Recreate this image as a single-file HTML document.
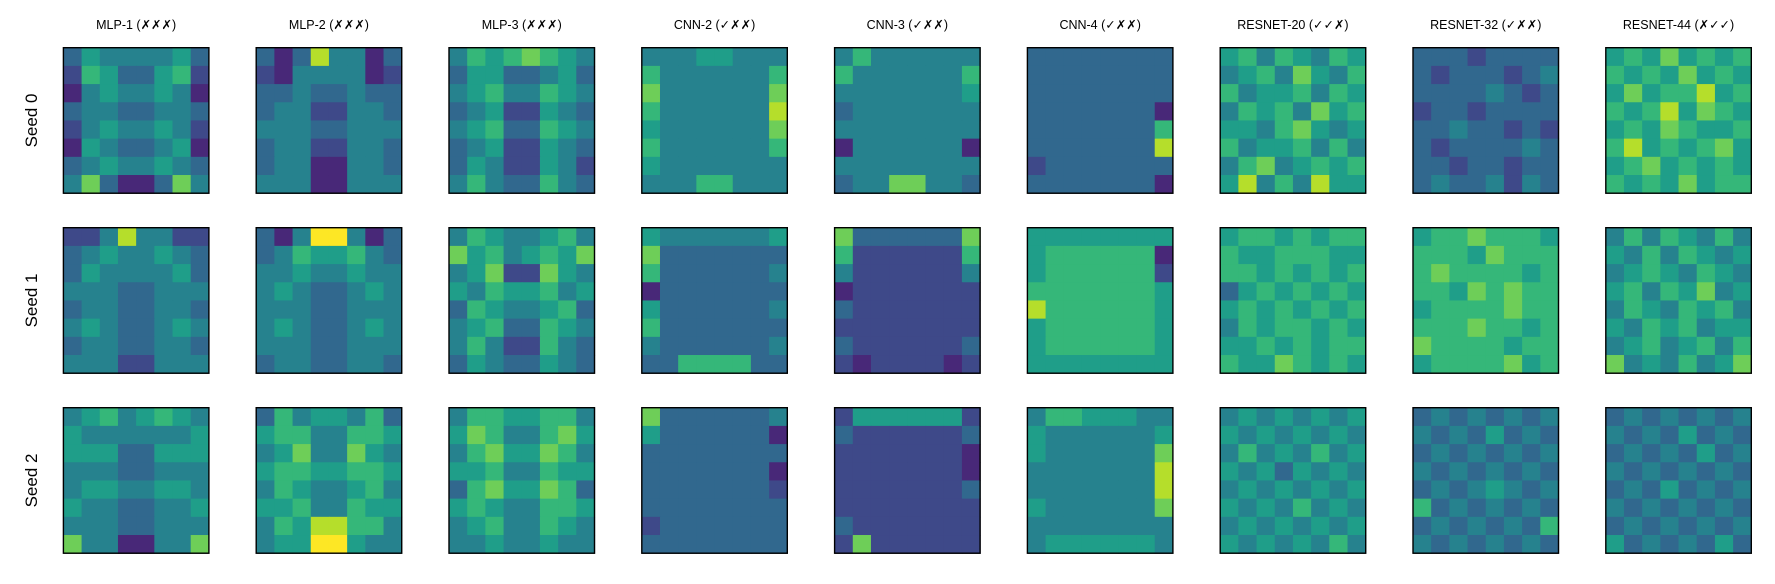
<!DOCTYPE html>
<html><head><meta charset="utf-8">
<style>
html,body{margin:0;padding:0;background:#fff;}
svg{display:block;font-family:"Liberation Sans","DejaVu Sans",sans-serif;}
</style></head>
<body>
<svg id="fig" width="1775" height="584" viewBox="0 0 1775 584" xmlns="http://www.w3.org/2000/svg"></svg>
<script>
const models = ["MLP-1 (✗✗✗)","MLP-2 (✗✗✗)","MLP-3 (✗✗✗)","CNN-2 (✓✗✗)","CNN-3 (✓✗✗)","CNN-4 (✓✗✗)","RESNET-20 (✓✓✗)","RESNET-32 (✓✗✗)","RESNET-44 (✗✓✓)"];
const seeds = ["Seed 0","Seed 1","Seed 2"];
const seed0 = [
["35444453","26533562","14544541","34433443","24544542","15433451","34544543","47311374"],
["31384413","21444412","33433433","34422443","44433444","34422443","34411443","44411444"],
["46567654","35533453","45644654","34522543","45633654","34522543","35422542","46433643"],
["44455444","64444446","74444447","64444448","54444447","64444446","54444444","44466444"],
["46444444","64444446","44444445","34444444","44444444","14444441","44444444","34477443"],
["33333333","33333333","33333333","33333331","33333336","33333338","23333333","33333331"],
["56465465","45647546","64556465","46564756","55467545","64556464","46745656","58464855"],
["33323333","32333234","33334323","23323333","33433232","32333343","33233233","34334243"],
["56575656","65657565","57566856","65685765","56576556","68565675","56756565","65657566"]
];
const seed1 = [
["22484422","34544543","35444453","44433444","34433443","45433454","34433443","44422444"],
["31499413","34655643","44544544","45433454","44433444","45433454","44433444","34433443"],
["46544564","75645657","45722754","54655645","36544563","45633654","46422643","35433543"],
["54444445","73333333","63333334","13333333","53333334","63333333","43333334","33666633"],
["73333337","62222226","42222224","12222222","32222222","22222222","32222223","21222212"],
["55555555","56666661","56666662","66666665","86666665","56666665","56666665","55555555"],
["56656566","65566655","66565656","35656565","56565656","46566565","55656566","65576565"],
["56676665","66657666","67666656","66576766","56666766","66676656","76666566","56666756"],
["46465464","54646545","45654654","56465745","46546564","54656455","45645646","74546457"]
];
const seed2 = [
["45645654","54444445","55533555","44433444","45544554","54433445","44433444","74411447"],
["36455463","56644665","45744754","56655665","46544564","55644655","46588664","45599544"],
["46655664","57644675","46755764","55644655","36755763","56544665","45644654","44544544"],
["73333334","53333331","33333333","33333331","33333332","33333333","23333333","33333333"],
["25555552","32222223","22222221","22222221","22222223","22222222","32222222","27222222"],
["46655544","54444445","54444447","44444448","44444448","54444447","44444444","45555554"],
["45454545","54545454","46454645","54535454","45454545","54546454","45454545","54545464"],
["34343434","43435343","34343434","43434343","34345434","63434343","34343436","43434343"],
["34343434","43435343","34343534","43434343","34353434","43434343","34343434","53434353"]
];
const viridis = ["#440154","#482878","#3e4989","#31688e","#26828e","#1f9e89","#35b779","#6ece58","#b5de2b","#fde725"];

const NS="http://www.w3.org/2000/svg";
const svg=document.getElementById('fig');
const X0=63.4, DX=192.8, Y0=47.7, DY=180, S=145.5;
const colX = i => X0 + i*DX;
const rowY = j => Y0 + j*DY;
const color = v => viridis[v];
const allSeeds=[seed0,seed1,seed2];

models.forEach((m,i)=>{
  const t=document.createElementNS(NS,'text');
  
  
  t.setAttribute('x',colX(i)+S/2);t.setAttribute('y',29);
  t.setAttribute('text-anchor','middle');t.setAttribute('font-size','12.5');
  t.textContent=m;svg.appendChild(t);
});
seeds.forEach((s,j)=>{
  const t=document.createElementNS(NS,'text');
  
  
  const cx=37, cy=rowY(j)+S/2;
  t.setAttribute('x',cx);t.setAttribute('y',cy);
  t.setAttribute('transform','rotate(-90 '+cx+' '+cy+')');
  t.setAttribute('text-anchor','middle');t.setAttribute('font-size','17');
  t.textContent=s;svg.appendChild(t);
});
allSeeds.forEach((grid,j)=>{
  grid.forEach((panel,i)=>{
    const g=document.createElementNS(NS,'g');
    
    
    const n=panel.length, cs=S/n;
    panel.forEach((row,r)=>{
      row.split('').forEach((ch,c)=>{
        const rc=document.createElementNS(NS,'rect');
        
        
        rc.setAttribute('x',colX(i)+c*cs);rc.setAttribute('y',rowY(j)+r*cs);
        rc.setAttribute('width',cs+0.6);rc.setAttribute('height',cs+0.6);
        rc.setAttribute('fill',color(+ch));
        g.appendChild(rc);
      });
    });
    const b=document.createElementNS(NS,'rect');
    
    
    b.setAttribute('x',colX(i));b.setAttribute('y',rowY(j));
    b.setAttribute('width',S);b.setAttribute('height',S);
    b.setAttribute('fill','none');b.setAttribute('stroke','#000');b.setAttribute('stroke-width','1.4');
    g.appendChild(b);
    svg.appendChild(g);
  });
});
</script>
</body></html>
